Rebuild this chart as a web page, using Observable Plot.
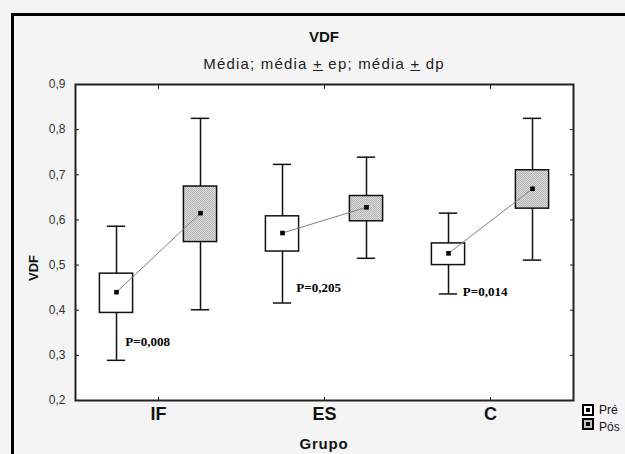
<!DOCTYPE html>
<html><head><meta charset="utf-8">
<script src="https://cdn.jsdelivr.net/npm/d3@7"></script>
<script src="https://cdn.jsdelivr.net/npm/@observablehq/plot@0.6"></script>
<style>
body{margin:0;background:#f4f4f4;}
#wrap{position:relative;width:625px;height:454px;background:#f4f4f4;overflow:hidden;font-family:"Liberation Sans",Arial,sans-serif;color:#111;}
#wrap svg.chart{position:absolute;left:0;top:0;}
.bt{position:absolute;left:11px;top:13px;right:0;height:3px;background:#000;}
.bl{position:absolute;left:11px;top:13px;bottom:0;width:3px;background:#000;}
.title{position:absolute;left:75px;width:498px;text-align:center;top:28px;font-size:15px;font-weight:bold;line-height:18px;}
.sub{position:absolute;left:75px;width:498px;text-align:center;top:55px;font-size:15px;letter-spacing:1.2px;line-height:17px;color:#222;}
.ylab{position:absolute;left:33px;top:268px;transform:translate(-50%,-50%) rotate(-90deg);font-size:13px;font-weight:bold;white-space:nowrap;}
.xlab{position:absolute;left:324px;top:443px;transform:translate(-50%,-50%);font-size:15px;letter-spacing:0.8px;font-weight:bold;}
.lg{position:absolute;left:582px;width:8px;height:8px;border:2px solid #000;}
.lg i{position:absolute;left:2px;top:2px;width:4px;height:4px;background:#000;}
.lgt{position:absolute;left:599px;font-size:12px;line-height:14px;}
</style>
</head><body>
<svg width="0" height="0" style="position:absolute">
  <defs>
    <pattern id="hatch" width="2" height="2" patternUnits="userSpaceOnUse">
      <rect width="2" height="2" fill="#dedede"></rect>
      <rect x="0" y="0" width="1" height="1" fill="#b2b2b2"></rect>
      <rect x="1" y="1" width="1" height="1" fill="#b2b2b2"></rect>
    </pattern>
  </defs>
</svg>
<div id="wrap">
  <div class="bt"></div><div class="bl"></div>
  <div class="title">VDF</div>
  <div class="sub">Média; média <u>+</u> ep; média <u>+</u> dp</div>
  <div class="ylab">VDF</div>
  <div class="xlab">Grupo</div>
  <div class="lg" style="top:404px;background:#fff"><i></i></div>
  <div class="lgt" style="top:403px">Pré</div>
  <div class="lg" style="top:418px;background:#c4c4c4"><i></i></div>
  <div class="lgt" style="top:420px">Pós</div>
</div>
<script>
const groups = ["IF", "ES", "C"];
const phases = ["Pré", "Pós"];
const preMean = [0.440, 0.571, 0.526];
const preSeLo = [0.394, 0.530, 0.500];
const preSeHi = [0.481, 0.608, 0.548];
const preSdLo = [0.289, 0.416, 0.436];
const preSdHi = [0.586, 0.723, 0.615];
const posMean = [0.615, 0.628, 0.669];
const posSeLo = [0.551, 0.597, 0.625];
const posSeHi = [0.674, 0.653, 0.710];
const posSdLo = [0.401, 0.515, 0.511];
const posSdHi = [0.825, 0.739, 0.825];
const pLabels = ["P=0,008", "P=0,205", "P=0,014"];
const pLabelX = [-0.20, 0.83, 1.833];
const pLabelY = [0.331, 0.450, 0.441];
const yTicks = [0.2, 0.3, 0.4, 0.5, 0.6, 0.7, 0.8, 0.9];

const OFF = 0.253, HB = 0.1, HC = 0.055;
const rows = [];
groups.forEach((g, i) => {
  rows.push({i, phase: phases[0], x: i - OFF, mean: preMean[i], seLo: preSeLo[i], seHi: preSeHi[i], sdLo: preSdLo[i], sdHi: preSdHi[i]});
  rows.push({i, phase: phases[1], x: i + OFF, mean: posMean[i], seLo: posSeLo[i], seHi: posSeHi[i], sdLo: posSdLo[i], sdHi: posSdHi[i]});
});
const pRows = groups.map((g, i) => ({x: pLabelX[i], y: pLabelY[i], t: pLabels[i]}));
const fmt = d => d.toFixed(1).replace(".", ",");
const ink = "#111";

const chart = Plot.plot({
  width: 625, height: 454,
  marginTop: 84, marginRight: 52, marginBottom: 54, marginLeft: 75,
  style: {background: "transparent", fontFamily: "Liberation Sans, Arial, sans-serif", color: "#111"},
  x: {type: "linear", domain: [-0.5, 2.5]},
  y: {domain: [0.2, 0.9]},
  marks: [
    Plot.frame({fill: "white", stroke: "none"}),
    Plot.ruleX(rows, {x: "x", y1: "sdLo", y2: "sdHi", stroke: ink, strokeWidth: 1.5}),
    Plot.ruleY(rows, {x1: d => d.x - HC, x2: d => d.x + HC, y: "sdLo", stroke: ink, strokeWidth: 1.5}),
    Plot.ruleY(rows, {x1: d => d.x - HC, x2: d => d.x + HC, y: "sdHi", stroke: ink, strokeWidth: 1.5}),
    Plot.rect(rows, {filter: d => d.phase === "Pré", x1: d => d.x - HB, x2: d => d.x + HB, y1: "seLo", y2: "seHi", fill: "white", stroke: ink, strokeWidth: 1.5}),
    Plot.rect(rows, {filter: d => d.phase === "Pós", x1: d => d.x - HB, x2: d => d.x + HB, y1: "seLo", y2: "seHi", fill: "url(#hatch)", stroke: ink, strokeWidth: 1.5}),
    Plot.line(rows, {x: "x", y: "mean", z: "i", stroke: "#808080", strokeWidth: 1}),
    Plot.dot(rows, {x: "x", y: "mean", symbol: "square", r: 2.6, fill: "#000", stroke: "none"}),
    Plot.text(pRows, {x: "x", y: "y", text: "t", textAnchor: "start", fontFamily: "Liberation Serif, Times New Roman, serif", fontWeight: "bold", fontSize: 13, fill: "#000"}),
    Plot.axisY(yTicks, {anchor: "left", tickSize: -4, tickPadding: 14, tickFormat: fmt, fontSize: 12, fill: "#333", label: null}),
    Plot.axisY(yTicks, {anchor: "right", tickSize: -4, tickFormat: () => "", label: null}),
    Plot.axisX([0, 1, 2], {anchor: "bottom", tickSize: -3, tickPadding: 10, tickFormat: i => groups[i], fontSize: 18, fontWeight: "bold", fill: "#111", label: null}),
    Plot.axisX([0, 1, 2], {anchor: "top", tickSize: -4, tickFormat: () => "", label: null}),
    Plot.frame({stroke: "#222", strokeWidth: 2})
  ]
});
chart.classList.add("chart");
document.getElementById("wrap").insertBefore(chart, document.getElementById("wrap").firstChild);
</script>
</body></html>
